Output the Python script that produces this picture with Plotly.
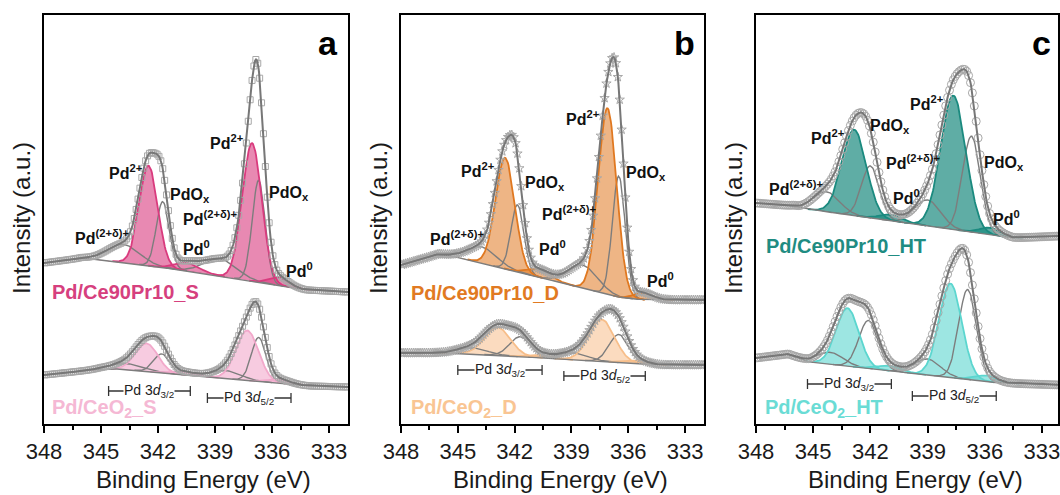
import numpy as np
import plotly.graph_objects as go

# ---------------- data ----------------
x_tick_labels = [348, 345, 342, 339, 336, 333]
component_names = ["Pd(2+δ)+ 3d3/2", "Pd2+ 3d3/2", "PdOx 3d3/2", "Pd0 3d3/2",
                   "Pd(2+δ)+ 3d5/2", "Pd2+ 3d5/2", "PdOx 3d5/2", "Pd0 3d5/2"]
component_filled = [False, True, False, True, False, True, False, True]

# (a) Pd/Ce90Pr10_S
a_top_center = [343.8, 342.5, 341.75, 340.5, 338.7, 337.05, 336.7, 335.6]
a_top_height = [18, 100, 66, 8, 17, 138, 102, 8]
a_top_fwhm = [2.0, 1.15, 0.8, 1.5, 2.0, 1.2, 0.8, 1.2]
a_top_bg_ev = [348, 346, 344, 340, 334.2, 332]
a_top_bg = [161, 166, 162, 152, 134, 132]
# (a) Pd/CeO2_S
a_bot_center = [343.6, 342.6, 341.8, 340.6, 338.4, 337.3, 336.7, 335.6]
a_bot_height = [6, 28, 19, 3, 8, 50, 44, 4]
a_bot_fwhm = [2.0, 1.4, 1.0, 1.5, 1.8, 1.4, 0.9, 1.3]
a_bot_bg_ev = [348, 345, 344, 340, 334, 332]
a_bot_bg = [49, 55, 55, 48, 38, 37]

# (b) Pd/Ce90Pr10_D
b_top_center = [343.7, 342.5, 341.85, 340.7, 338.4, 337.1, 336.5, 335.2]
b_top_height = [16, 111, 67, 8, 23, 186, 121, 7]
b_top_fwhm = [1.8, 1.2, 0.8, 1.4, 1.8, 1.15, 0.8, 1.2]
b_top_bg_ev = [348, 346, 345, 336.3, 335, 332]
b_top_bg = [159, 170, 167, 126, 124, 124]
# (b) Pd/CeO2_D
b_bot_center = [344.2, 342.9, 341.7, 340.6, 338.9, 337.4, 336.5, 335.5]
b_bot_height = [6, 28, 20, 3, 7, 42, 28, 3]
b_bot_fwhm = [1.8, 1.6, 1.3, 1.4, 1.8, 1.6, 1.2, 1.3]
b_bot_bg_ev = [348, 345, 334.3, 332]
b_bot_bg = [71, 71, 59, 59]

# (c) Pd/Ce90Pr10_HT
c_top_center = [344.3, 342.85, 342.0, 340.9, 339.0, 337.65, 336.7, 335.7]
c_top_height = [20, 86, 52, 6, 26, 134, 96, 7]
c_top_fwhm = [1.6, 1.5, 1.1, 1.4, 1.6, 1.55, 1.1, 1.3]
c_top_bg_ev = [348, 346, 345.7, 334.5, 332]
c_top_bg = [221, 218, 216, 186, 188]
# (c) Pd/CeO2_HT
c_bot_center = [344.1, 343.2, 342.1, 341.0, 339.0, 337.8, 336.9, 335.9]
c_bot_height = [12, 58, 48, 5, 16, 94, 90, 6]
c_bot_fwhm = [1.6, 1.4, 1.2, 1.5, 1.6, 1.4, 1.1, 1.3]
c_bot_bg_ev = [348, 346.3, 345.2, 335.2, 332]
c_bot_bg = [66, 70, 62, 41, 39]

sample_names = ["Pd/Ce90Pr10_S", "Pd/CeO<sub>2</sub>_S",
                "Pd/Ce90Pr10_D", "Pd/CeO<sub>2</sub>_D",
                "Pd/Ce90Pr10_HT", "Pd/CeO<sub>2</sub>_HT"]
panel_letters = ["a", "b", "c"]
peak_label_texts = ["Pd<sup>(2+δ)+</sup>", "Pd<sup>2+</sup>", "PdO<sub>x</sub>", "Pd<sup>0</sup>",
                    "Pd<sup>(2+δ)+</sup>", "Pd<sup>2+</sup>", "PdO<sub>x</sub>", "Pd<sup>0</sup>"]
bracket_texts = ["Pd 3<i>d</i><sub>3/2</sub>", "Pd 3<i>d</i><sub>5/2</sub>"]

# ---------------- layout / style ----------------
FONT = "Liberation Sans, Arial, sans-serif"
x_domains = [[44 / 1060, 348 / 1060], [401 / 1060, 704 / 1060], [756 / 1060, 1058 / 1060]]
x_ranges = [[348, 332], [348, 332], [348, 332.16]]
y_domain = [1 - 424 / 495, 1 - 15 / 495]
Y_RANGE = [0, 409]

spec_styles = [
    # panel, line colour, fill colour, label colour, marker symbol, marker size
    (0, "#D93B7E", "rgba(217,59,126,0.6)", "#D6407E", "square-open", 6),
    (0, "#F2A9CB", "rgba(242,169,203,0.6)", "#F5B8D4", "square-open", 6),
    (1, "#E07820", "rgba(224,120,32,0.55)", "#E17A22", "star-open", 7),
    (1, "#F7BE8A", "rgba(247,190,138,0.55)", "#F9C593", "star-open", 7),
    (2, "#1B8A7F", "rgba(27,138,127,0.7)", "#1F8C82", "circle-open", 8),
    (2, "#5CD6CF", "rgba(92,214,207,0.6)", "#6ADCD5", "circle-open", 8),
]
spec_data = [
    (a_top_center, a_top_height, a_top_fwhm, a_top_bg_ev, a_top_bg),
    (a_bot_center, a_bot_height, a_bot_fwhm, a_bot_bg_ev, a_bot_bg),
    (b_top_center, b_top_height, b_top_fwhm, b_top_bg_ev, b_top_bg),
    (b_bot_center, b_bot_height, b_bot_fwhm, b_bot_bg_ev, b_bot_bg),
    (c_top_center, c_top_height, c_top_fwhm, c_top_bg_ev, c_top_bg),
    (c_bot_center, c_bot_height, c_bot_fwhm, c_bot_bg_ev, c_bot_bg),
]

x_line = np.round(np.arange(332.0, 348.0001, 0.04), 3)
x_mark = np.round(np.arange(332.05, 348.0, 0.1), 3)


def gauss(x, c, h, w):
    return h * np.exp(-4 * np.log(2) * ((x - c) / w) ** 2)


def background(x, ev, val):
    return np.interp(x, ev[::-1], val[::-1])


fig = go.Figure()
GRAY_COMP = "#7d7d7d"
GRAY_ENV = "#777777"
GRAY_MARK = "#a8a8a8"

for (panel, lc, fc, _lab, sym, msz), (cen, hgt, fw, bev, bval) in zip(spec_styles, spec_data):
    xa = "x" if panel == 0 else f"x{panel + 1}"
    ya = "y" if panel == 0 else f"y{panel + 1}"
    bg = background(x_line, bev, bval)
    comps = [gauss(x_line, c, h, w) for c, h, w in zip(cen, hgt, fw)]
    env = bg + np.sum(comps, axis=0)
    # fills
    for comp, filled in zip(comps, component_filled):
        if filled:
            fig.add_trace(go.Scatter(
                x=np.concatenate([x_line, x_line[::-1]]),
                y=np.concatenate([bg + comp, bg[::-1]]),
                fill="toself", fillcolor=fc, line=dict(width=0),
                mode="lines", xaxis=xa, yaxis=ya, hoverinfo="skip"))
    # unfilled component lines
    for comp, filled in zip(comps, component_filled):
        if not filled:
            m = comp > 0.05
            fig.add_trace(go.Scatter(x=x_line[m], y=(bg + comp)[m], mode="lines",
                                     line=dict(color=GRAY_COMP, width=1.4),
                                     xaxis=xa, yaxis=ya, hoverinfo="skip"))
    # coloured outlines
    for comp, filled in zip(comps, component_filled):
        if filled:
            m = comp > 0.05
            fig.add_trace(go.Scatter(x=x_line[m], y=(bg + comp)[m], mode="lines",
                                     line=dict(color=lc, width=1.8),
                                     xaxis=xa, yaxis=ya, hoverinfo="skip"))
    # background line
    fig.add_trace(go.Scatter(x=x_line, y=bg, mode="lines",
                             line=dict(color=GRAY_COMP, width=1.4),
                             xaxis=xa, yaxis=ya, hoverinfo="skip"))
    # data markers (sampled on the fitted envelope)
    bgm = background(x_mark, bev, bval)
    envm = bgm + np.sum([gauss(x_mark, c, h, w) for c, h, w in zip(cen, hgt, fw)], axis=0)
    fig.add_trace(go.Scatter(x=x_mark, y=envm, mode="markers",
                             marker=dict(symbol=sym, size=msz, color=GRAY_MARK,
                                         line=dict(width=1, color=GRAY_MARK)),
                             xaxis=xa, yaxis=ya, hoverinfo="skip"))
    # envelope
    fig.add_trace(go.Scatter(x=x_line, y=env, mode="lines",
                             line=dict(color=GRAY_ENV, width=2),
                             xaxis=xa, yaxis=ya, hoverinfo="skip"))

# axes
axis_common = dict(showline=True, mirror=True, linecolor="black", linewidth=1.6,
                   showgrid=False, zeroline=False, automargin=False)
layout_axes = {}
for i in range(3):
    sx = "xaxis" if i == 0 else f"xaxis{i + 1}"
    sy = "yaxis" if i == 0 else f"yaxis{i + 1}"
    layout_axes[sx] = dict(axis_common, domain=x_domains[i], range=x_ranges[i],
                           anchor="y" if i == 0 else f"y{i + 1}",
                           tickmode="array", tickvals=x_tick_labels,
                           ticktext=[str(v) for v in x_tick_labels],
                           ticklabeloverflow="allow",
                           ticks="outside", ticklen=7, tickwidth=1.6, tickcolor="black",
                           tickfont=dict(family=FONT, size=22, color="#1a1a1a"),
                           minor=dict(tickmode="array",
                                      tickvals=[v + 1.5 for v in x_tick_labels],
                                      ticks="outside", ticklen=4, tickwidth=1.6,
                                      tickcolor="black"))
    layout_axes[sy] = dict(axis_common, domain=y_domain, range=Y_RANGE,
                           anchor="x" if i == 0 else f"x{i + 1}",
                           showticklabels=False, ticks="")

annotations = []
shapes = []

# label placement (eV / intensity units)
peak_label_pos = [
    [(344.97, 187), (343.68, 252), (340.34, 229), (340.0, 176),
     (339.26, 206), (338.37, 282), (335.08, 231), (334.53, 154)],
    [(345.02, 186), (343.93, 254), (340.42, 241), (340.0, 176),
     (339.15, 211), (338.39, 306), (335.08, 251), (334.32, 144)],
    [(345.88, 236), (344.25, 287), (340.95, 297), (340.13, 227),
     (339.79, 262), (339.03, 321), (334.97, 261), (334.84, 206)],
]
sample_label_pos = [(347.7, 132), (347.7, 16), (347.6, 131), (347.6, 16), (347.6, 178), (347.65, 16)]
bracket_pos = [
    [((344.6, 340.3), 33), ((339.4, 335.0), 26)],
    [((345.0, 340.55), 54), ((339.4, 335.1), 48)],
    [((345.3, 340.9), 40), ((339.8, 335.4), 28)],
]

for p in range(3):
    xr = "x" if p == 0 else f"x{p + 1}"
    yr = "y" if p == 0 else f"y{p + 1}"
    for txt, (xx, yy) in zip(peak_label_texts, peak_label_pos[p]):
        annotations.append(dict(x=xx, y=yy, xref=xr, yref=yr, text=f"<b>{txt}</b>",
                                showarrow=False, xanchor="center", yanchor="middle",
                                font=dict(family=FONT, size=16, color="#111")))
    annotations.append(dict(x=333.05, y=381, xref=xr, yref=yr, text=f"<b>{panel_letters[p]}</b>",
                            showarrow=False, xanchor="center", yanchor="middle",
                            font=dict(family=FONT, size=34, color="black")))
    for k, ((x0, x1), yy) in enumerate(bracket_pos[p]):
        shapes.append(dict(type="line", x0=x0, x1=x1, y0=yy, y1=yy, xref=xr, yref=yr,
                           line=dict(color="#333", width=1.3)))
        for xe in (x0, x1):
            shapes.append(dict(type="line", x0=xe, x1=xe, y0=yy - 5, y1=yy + 5, xref=xr, yref=yr,
                               line=dict(color="#333", width=1.3)))
        annotations.append(dict(x=(x0 + x1) / 2, y=yy, xref=xr, yref=yr, text=bracket_texts[k],
                                showarrow=False, xanchor="center", yanchor="middle",
                                bgcolor="white", borderpad=0,
                                font=dict(family=FONT, size=14, color="#222")))
    annotations.append(dict(x=(x_domains[p][0] + x_domains[p][1]) / 2 + 8 / 1060, y=1 - 479 / 495,
                            xref="paper", yref="paper", text="Binding Energy (eV)",
                            showarrow=False, xanchor="center", yanchor="middle",
                            font=dict(family=FONT, size=24, color="#1a1a1a")))
    annotations.append(dict(x=x_domains[p][0] - 22 / 1060, y=1 - 218 / 495,
                            xref="paper", yref="paper", text="Intensity (a.u.)", textangle=-90,
                            showarrow=False, xanchor="center", yanchor="middle",
                            font=dict(family=FONT, size=24, color="#1a1a1a")))

for i, (name, (xx, yy)) in enumerate(zip(sample_names, sample_label_pos)):
    p = spec_styles[i][0]
    xr = "x" if p == 0 else f"x{p + 1}"
    yr = "y" if p == 0 else f"y{p + 1}"
    annotations.append(dict(x=xx, y=yy, xref=xr, yref=yr, text=f"<b>{name}</b>",
                            showarrow=False, xanchor="left", yanchor="middle",
                            font=dict(family=FONT, size=20, color=spec_styles[i][3])))

fig.update_layout(template="none", width=1060, height=495, margin=dict(l=0, r=0, t=0, b=0, pad=0),
                  paper_bgcolor="white", plot_bgcolor="white", showlegend=False,
                  font=dict(family=FONT),
                  annotations=annotations, shapes=shapes, **layout_axes)

fig.write_html("out.html", config={"displayModeBar": False},
               post_script="document.body.style.margin='0';document.body.style.overflow='hidden';")
